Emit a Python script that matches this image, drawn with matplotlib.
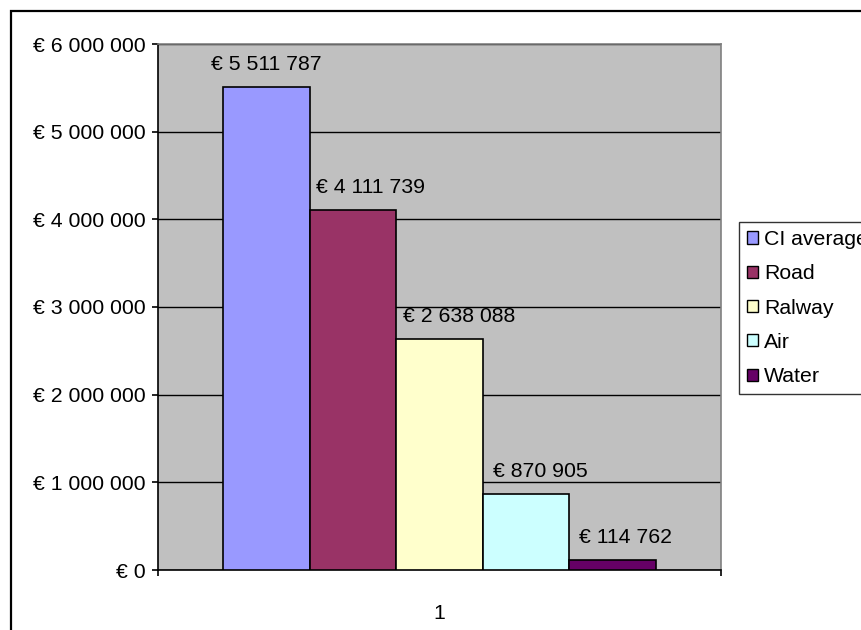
import matplotlib
matplotlib.use("Agg")
import matplotlib.pyplot as plt
from matplotlib.patches import Rectangle, Patch

categories = ["1"]
series_names = ["CI average", "Road", "Ralway", "Air", "Water"]
series_values = [5511787, 4111739, 2638088, 870905, 114762]
series_colors = ["#9999FF", "#993366", "#FFFFCC", "#CCFFFF", "#660066"]
y_ticks = [0, 1000000, 2000000, 3000000, 4000000, 5000000, 6000000]

# horizontal nudge (pixels, from each bar's left edge) keeping labels clear of taller neighbours
label_dx_px = [-12, 6, 7, 10, 10]


def euro(v):
    s = f"{int(round(v)):,}".replace(",", " ")
    return "\u20ac " + s


plt.rcParams["font.family"] = ["Liberation Sans", "DejaVu Sans"]
FS = 15.3
PX = 0.72  # points per pixel at 100 dpi

W, H = 862, 630
fig = plt.figure(figsize=(W / 100, H / 100), dpi=100)
fig.patch.set_facecolor("white")

# outer chart border (runs off the right and bottom edges)
fig.patches.append(Rectangle((11 / W, -0.1), 1.2, 1 - 11 / H + 0.1,
                             transform=fig.transFigure, fill=False,
                             edgecolor="black", linewidth=1.6, zorder=0))

left, right, top, bottom = 158, 721, 44, 570
ax = fig.add_axes([left / W, 1 - bottom / H, (right - left) / W, (bottom - top) / H])
ax.set_facecolor("#C0C0C0")

n = len(series_values)
bw = 1 / (n + 1.5)
for i, (name, val, col) in enumerate(zip(series_names, series_values, series_colors)):
    x = (i - (n - 1) / 2) * bw
    ax.bar(x, val, width=bw, color=col, edgecolor="black", linewidth=1.2,
           label=name, zorder=3)
    ax.annotate(euro(val), (x - bw / 2, val),
                xytext=(label_dx_px[i] * PX, 22.5 * PX), textcoords="offset points",
                ha="left", va="center", fontsize=FS, zorder=4)

ax.set_xlim(-0.5, 0.5)
ax.set_ylim(0, 6000000)
ax.set_yticks(y_ticks)
ax.set_yticklabels([euro(v) for v in y_ticks], fontsize=FS)
ax.yaxis.grid(True, color="black", linewidth=1.0, zorder=1)
ax.set_axisbelow(True)

ax.set_xticks([-0.5, 0.5])
ax.set_xticklabels(["", ""])
ax.set_xticks([0], minor=True)
ax.set_xticklabels(categories, minor=True, fontsize=FS)
ax.tick_params(axis="x", which="minor", length=0, pad=24.5)
ax.tick_params(axis="x", which="major", length=4.5, width=1.2, color="black")
ax.tick_params(axis="y", length=4.5, width=1.2, color="black", pad=4.5)

for s in ("top", "right"):
    ax.spines[s].set_color("#808080")
    ax.spines[s].set_linewidth(1.2)
for s in ("left", "bottom"):
    ax.spines[s].set_color("black")
    ax.spines[s].set_linewidth(1.2)

handles = [Patch(facecolor=c, edgecolor="black", linewidth=1.0) for c in series_colors]
leg = fig.legend(handles, series_names, loc="upper left",
                 bbox_to_anchor=(739 / W, 1 - 222 / H), fontsize=FS,
                 frameon=True, fancybox=False, edgecolor="black",
                 handlelength=0.5, handleheight=0.5, handletextpad=0.3,
                 labelspacing=0.72, borderpad=0.38, borderaxespad=0)
leg.get_frame().set_linewidth(1.0)

fig.savefig("out.png", dpi=100)
